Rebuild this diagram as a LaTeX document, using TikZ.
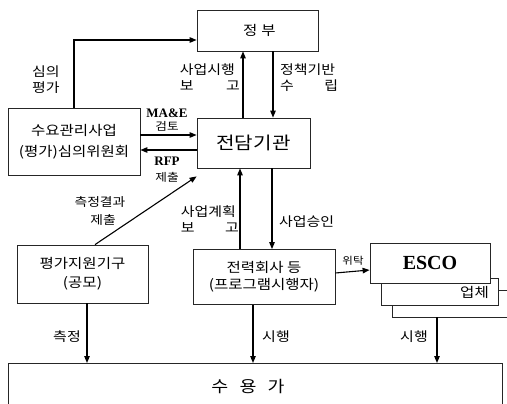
\documentclass[tikz,border=0pt]{standalone}
\usepackage{fontspec}
\setmainfont[FakeStretch=1.15]{Noto Sans CJK KR}
\newfontfamily\latinbold{Liberation Serif}
\usetikzlibrary{arrows.meta}
\tikzset{
  box/.style={draw=black!85, line width=0.8pt, rectangle, inner sep=0pt, align=center},
  conn/.style={line width=1.1pt, -{Triangle[length=7pt,width=5.5pt]}},
  lbl/.style={inner sep=0pt, font=\fontsize{13}{15}\selectfont},
  big/.style={font=\fontsize{13.5}{19}\selectfont},
}
\begin{document}
\begin{tikzpicture}[x=1pt,y=-1pt]
\useasboundingbox (0,0) rectangle (507,404);
\clip (0,0) rectangle (507,404);
% boxes
\node[box, minimum width=121pt, minimum height=41pt, big] (gov) at (257.5,30.5) {};
\node[lbl, big] (govt) at (259.5,30) {정\hspace{4pt}부};
\node[box, minimum width=113pt, minimum height=50pt, font=\fontsize{17.5}{20}\selectfont] (agency) at (253.5,143) {전담기관};
\node[box, minimum width=132pt, minimum height=67pt, font=\fontsize{13.5}{21}\selectfont] (comm) at (74,141.5) {수요관리사업\\(평가)심의위원회};
\node[box, minimum width=131pt, minimum height=58pt, big] (eval) at (82.5,274) {평가지원기구\\(공모)};
\node[box, minimum width=142pt, minimum height=55pt, font=\fontsize{13.5}{17}\selectfont] (util) at (264,277) {전력회사 등\\(프로그램시행자)};
\node[box, minimum width=118pt, minimum height=27pt, fill=white] (esco3) at (451,303.5) {};
\node[box, minimum width=117pt, minimum height=27pt, fill=white] (esco2) at (439.5,291.5) {};
\node[lbl, big, anchor=east] (esco2t) at (489,292) {업체};
\node[box, minimum width=120pt, minimum height=40pt, fill=white, font=\latinbold\bfseries\fontsize{20}{22}\selectfont] (esco) at (430,263) {ESCO};
\node[box, minimum width=494pt, minimum height=60pt, anchor=north west] (cust) at (8,363) {};
\node[lbl, font=\fontsize{16}{17}\selectfont] (custt) at (248,387) {수\hspace{0.7em}용\hspace{0.7em}가};
% labels
\node[lbl, align=center] (l1) at (46,80) {심의\\[1pt]평가};
\node[lbl, anchor=north east, align=left] (l2) at (240,64) {사업시행\\[1pt]\makebox[60pt]{보\hfill 고}};
\node[lbl, anchor=north west, align=left] (l3) at (280,64) {정책기반\\[1pt]\makebox[58pt]{수\hfill 립}};
\node[lbl, font=\latinbold\bfseries\fontsize{13}{14}\selectfont] (l4) at (167,113) {MA\&E};
\node[lbl, font=\fontsize{11}{12}\selectfont] (l5) at (167,126) {검토};
\node[lbl, font=\latinbold\bfseries\fontsize{13}{14}\selectfont] (l6) at (167,161) {RFP};
\node[lbl, font=\fontsize{11}{12}\selectfont] (l7) at (167,177) {제출};
\node[lbl, font=\fontsize{12}{14}\selectfont] (l8) at (100,202) {측정결과};
\node[lbl, font=\fontsize{12}{14}\selectfont] (l9) at (103,220) {제출};
\node[lbl, anchor=north east, align=left] (l10) at (239,205) {사업계획\\[1pt]\makebox[58pt]{보\hfill 고}};
\node[lbl, anchor=west] (l11) at (279,222) {사업승인};
\node[lbl, font=\fontsize{10}{12}\selectfont] (l12) at (353,261) {위탁};
\node[lbl] (l13) at (67,337) {측정};
\node[lbl] (l14) at (276,337) {시행};
\node[lbl] (l15) at (414,337) {시행};
% connector ends
\coordinate (e1) at ([xshift=4.5pt]eval.south);
\coordinate (u1) at ([xshift=-11pt]util.south);
\coordinate (s1) at ([xshift=-14pt]esco3.south);
% connectors
\draw[conn] (comm.north) |- ([yshift=-9.5pt]gov.west);
\draw[conn] ([xshift=-10.5pt]agency.north) -- ([xshift=-14.5pt]gov.south);
\draw[conn] ([xshift=15.5pt]gov.south) -- ([xshift=19.5pt]agency.north);
\draw[conn] ([yshift=6.5pt]comm.east) -- ([yshift=8pt]agency.west);
\draw[conn] ([yshift=-7pt]agency.west) -- ([yshift=-8.5pt]comm.east);
\draw[conn] ([xshift=12.5pt]eval.north) -- ([yshift=-8pt]agency.south west);
\draw[conn] ([xshift=-24pt]util.north) -- ([xshift=-13.5pt]agency.south);
\draw[conn] ([xshift=18.5pt]agency.south) -- ([xshift=8pt]util.north);
\draw[conn] ([yshift=4pt]util.east) -- ([yshift=-7pt]esco.west);
\draw[conn] (e1) -- (e1 |- cust.north);
\draw[conn] (u1) -- (u1 |- cust.north);
\draw[conn] (s1) -- (s1 |- cust.north);
\end{tikzpicture}
\end{document}
